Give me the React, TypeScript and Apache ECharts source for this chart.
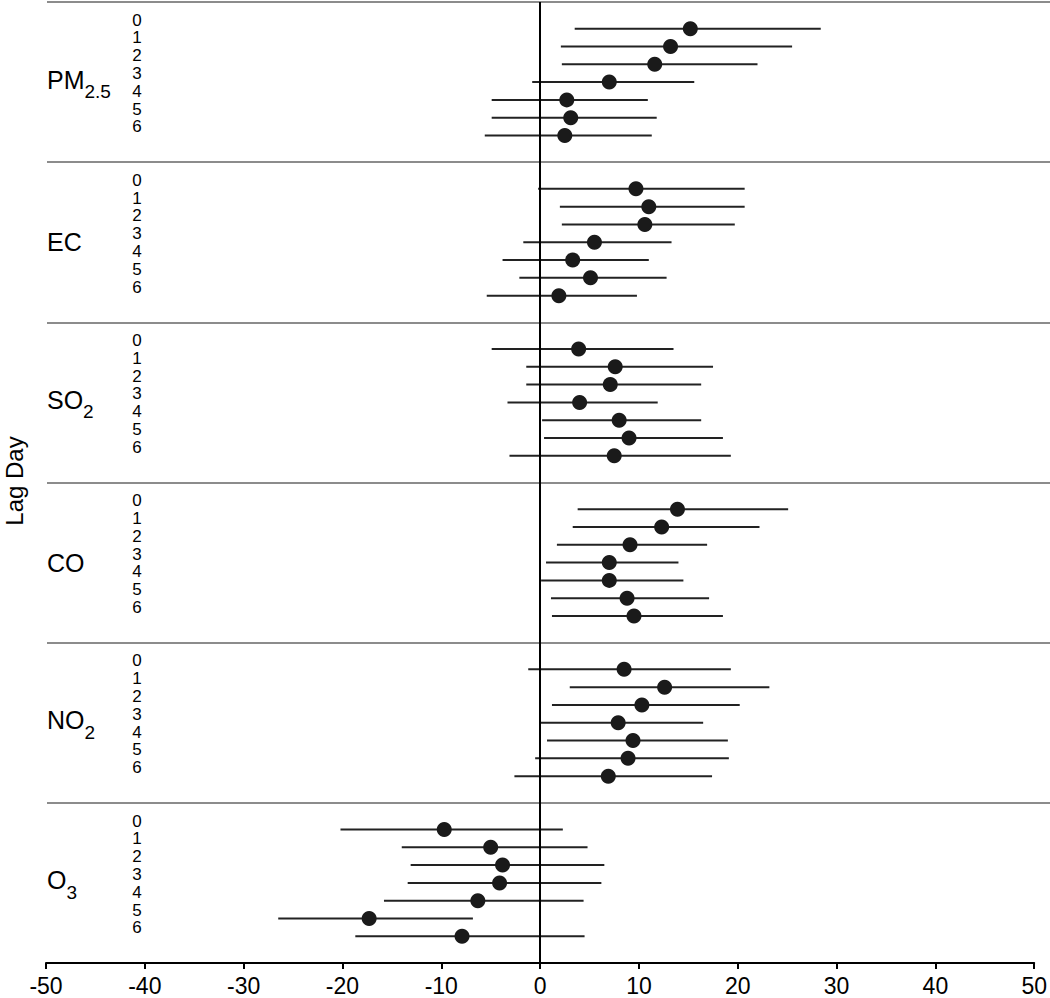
import React, { useEffect, useRef } from "react";
import * as echarts from "echarts";

// ---- data ----
const pollutantBase = ["PM", "EC", "SO", "CO", "NO", "O"];
const pollutantSub = ["2.5", "", "2", "", "2", "3"];
const lagDays = ["0", "1", "2", "3", "4", "5", "6"];
const xTicks = [-50, 50, 10]; // min, max, step

const pm25Est = [15.2, 13.2, 11.6, 7.0, 2.7, 3.1, 2.5];
const pm25Lo = [3.5, 2.1, 2.2, -0.8, -4.9, -4.9, -5.6];
const pm25Hi = [28.4, 25.5, 22.0, 15.6, 10.9, 11.8, 11.3];

const ecEst = [9.7, 11.0, 10.6, 5.5, 3.3, 5.1, 1.9];
const ecLo = [-0.2, 2.0, 2.2, -1.7, -3.8, -2.1, -5.4];
const ecHi = [20.7, 20.7, 19.7, 13.3, 11.0, 12.8, 9.8];

const so2Est = [3.9, 7.6, 7.1, 4.0, 8.0, 9.0, 7.5];
const so2Lo = [-4.9, -1.4, -1.4, -3.3, 0.2, 0.4, -3.1];
const so2Hi = [13.5, 17.5, 16.3, 11.9, 16.3, 18.5, 19.3];

const coEst = [13.9, 12.3, 9.1, 7.0, 7.0, 8.8, 9.5];
const coLo = [3.8, 3.3, 1.7, 0.6, 0.1, 1.1, 1.2];
const coHi = [25.1, 22.2, 16.9, 14.0, 14.5, 17.1, 18.5];

const no2Est = [8.5, 12.6, 10.3, 7.9, 9.4, 8.9, 6.9];
const no2Lo = [-1.2, 3.0, 1.2, 0.0, 0.7, -0.5, -2.6];
const no2Hi = [19.3, 23.2, 20.2, 16.5, 19.0, 19.1, 17.4];

const o3Est = [-9.7, -5.0, -3.8, -4.1, -6.3, -17.3, -7.9];
const o3Lo = [-20.2, -14.0, -13.1, -13.4, -15.8, -26.5, -18.7];
const o3Hi = [2.3, 4.8, 6.5, 6.2, 4.4, -6.8, 4.5];

const estimates = [pm25Est, ecEst, so2Est, coEst, no2Est, o3Est];
const lowers = [pm25Lo, ecLo, so2Lo, coLo, no2Lo, o3Lo];
const uppers = [pm25Hi, ecHi, so2Hi, coHi, no2Hi, o3Hi];

// each pollutant occupies a band of 18 half-units; lag rows sit at 3,5,...,15
const BAND = 18;
const rowPos = (g: number, i: number) => g * BAND + 3 + 2 * i;

const FONT = "'Liberation Sans', Arial, Helvetica, sans-serif";

export default function App() {
  const ref = useRef<HTMLDivElement>(null);

  useEffect(() => {
    document.body.style.margin = "0";
    if (!ref.current) return;
    const chart = echarts.init(ref.current, undefined, { renderer: "svg" });

    const barData: number[][] = [];
    const dotData: number[][] = [];
    estimates.forEach((arr, g) => {
      arr.forEach((v, i) => {
        const y = rowPos(g, i);
        barData.push([lowers[g][i], uppers[g][i], y]);
        dotData.push([v, y]);
      });
    });

    const yMax = BAND * pollutantBase.length;

    const option: any = {
      animation: false,
      backgroundColor: "#fff",
      textStyle: { fontFamily: FONT },
      grid: [
        { left: 46, right: 14, top: 2, bottom: 35 },
        { left: 47, right: 0, top: 2, bottom: 35 },
      ],
      xAxis: [
        {
          type: "value",
          gridIndex: 0,
          min: xTicks[0],
          max: xTicks[1],
          interval: xTicks[2],
          axisLine: { show: true, onZero: false, lineStyle: { color: "#000", width: 2 } },
          axisTick: { show: true, length: 6, lineStyle: { color: "#000", width: 2 } },
          axisLabel: { fontSize: 23, color: "#000", margin: 11, fontFamily: FONT },
          splitLine: { show: false },
        },
        {
          type: "value",
          gridIndex: 1,
          min: 0,
          max: 1,
          show: false,
        },
      ],
      yAxis: [
        {
          type: "value",
          gridIndex: 0,
          min: 0,
          max: yMax,
          inverse: true,
          show: false,
        },
        {
          type: "value",
          gridIndex: 0,
          min: 0,
          max: yMax,
          interval: 1,
          inverse: true,
          position: "left",
          offset: -91,
          axisLine: { show: false },
          axisTick: { show: false },
          splitLine: { show: false },
          axisLabel: {
            show: true,
            margin: 0,
            align: "center",
            verticalAlign: "bottom",
            lineHeight: 17,
            fontSize: 17,
            color: "#000",
            fontFamily: FONT,
            formatter: (v: number) => {
              const r = Math.round(v) % BAND;
              if (r >= 3 && r <= 15 && (r - 3) % 2 === 0) return lagDays[(r - 3) / 2];
              return "";
            },
          },
        },
        {
          type: "value",
          gridIndex: 0,
          min: 0,
          max: yMax,
          interval: BAND / 2,
          inverse: true,
          position: "left",
          offset: -1,
          axisLine: { show: false },
          axisTick: { show: false },
          splitLine: { show: false },
          axisLabel: {
            show: true,
            margin: 0,
            align: "left",
            color: "#000",
            fontFamily: FONT,
            formatter: (v: number) => {
              const r = Math.round(v);
              if (r % BAND !== BAND / 2) return "";
              const g = (r - BAND / 2) / BAND;
              if (g < 0 || g >= pollutantBase.length) return "";
              const sub = pollutantSub[g];
              return sub ? `{a|${pollutantBase[g]}}{b|${sub}}` : `{c|${pollutantBase[g]}}`;
            },
            rich: {
              a: { fontSize: 25, lineHeight: 30, verticalAlign: "top", color: "#000", fontFamily: FONT },
              b: {
                fontSize: 19,
                lineHeight: 19,
                verticalAlign: "top",
                padding: [15, 0, 0, 0],
                color: "#000",
                fontFamily: FONT,
              },
              c: { fontSize: 25, lineHeight: 30, color: "#000", fontFamily: FONT },
            },
          },
        },
        {
          type: "value",
          gridIndex: 1,
          min: 0,
          max: yMax,
          interval: BAND,
          inverse: true,
          axisLine: { show: false },
          axisTick: { show: false },
          axisLabel: { show: false },
          splitLine: {
            show: true,
            showMinLine: true,
            showMaxLine: false,
            lineStyle: { color: "#8c8c8c", width: 2 },
          },
        },
      ],
      graphic: [
        {
          type: "text",
          x: 14,
          y: 481,
          rotation: Math.PI / 2,
          style: {
            text: "Lag Day",
            fontSize: 24,
            fontFamily: FONT,
            fill: "#000",
            align: "center",
            verticalAlign: "middle",
          },
        },
      ],
      series: [
        {
          type: "custom",
          xAxisIndex: 0,
          yAxisIndex: 0,
          encode: { x: [0, 1], y: 2 },
          data: barData,
          renderItem: (params: any, api: any) => {
            const p1 = api.coord([api.value(0), api.value(2)]);
            const p2 = api.coord([api.value(1), api.value(2)]);
            return {
              type: "line",
              shape: { x1: p1[0], y1: p1[1], x2: p2[0], y2: p2[1] },
              style: { stroke: "#222", lineWidth: 2 },
            };
          },
          z: 3,
        },
        {
          type: "scatter",
          xAxisIndex: 0,
          yAxisIndex: 0,
          data: dotData,
          symbol: "circle",
          symbolSize: 15,
          itemStyle: { color: "#1a1a1a", opacity: 1 },
          z: 4,
          markLine: {
            silent: true,
            symbol: ["none", "none"],
            label: { show: false },
            lineStyle: { color: "#000", width: 2, type: "solid" },
            data: [{ xAxis: 0 }],
          },
        },
      ],
    };

    chart.setOption(option);
    return () => chart.dispose();
  }, []);

  return <div ref={ref} style={{ width: 1050, height: 998 }} />;
}
